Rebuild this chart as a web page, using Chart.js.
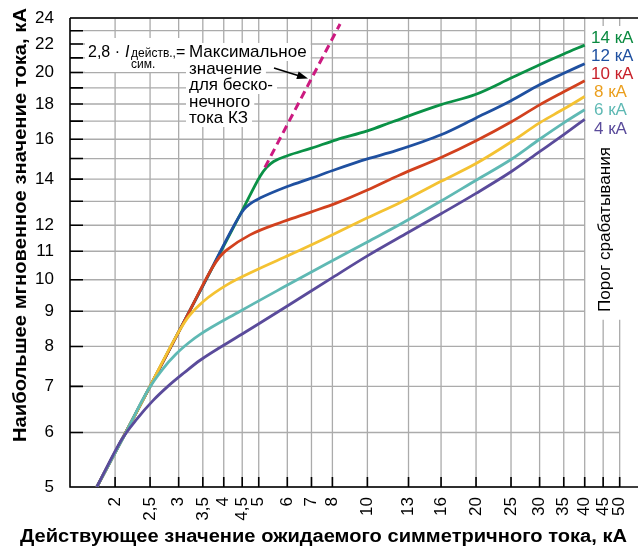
<!DOCTYPE html>
<html lang="ru">
<head>
<meta charset="utf-8">
<title>Наибольшее мгновенное значение тока</title>
<script src="https://cdn.jsdelivr.net/npm/chart.js@4.4.1/dist/chart.umd.min.js"></script>
<style>
  html, body { margin: 0; padding: 0; background: #fff; }
  #wrap { width: 638px; height: 548px; position: relative; }
</style>
</head>
<body>
<div id="wrap"><canvas id="chart"></canvas></div>
<script>
// axis ticks
const xTicks = [2, 2.5, 3, 3.5, 4, 4.5, 5, 6, 7, 8, 10, 13, 16, 20, 25, 30, 35, 40, 45, 50];
const yTicks = [5, 6, 7, 8, 9, 10, 11, 12, 13, 14, 15, 16, 17, 18, 19, 20, 21, 22, 23, 24];
const yLabeled = [5, 6, 7, 8, 9, 10, 11, 12, 14, 16, 18, 20, 22, 24];

// threshold curves, kA (x = prospective rms current, y = peak let-through current)
const seriesNames = ["4 кА", "6 кА", "8 кА", "10 кА", "12 кА", "14 кА"];
const x4 = [1.78, 2.09, 2.3, 2.55, 2.8, 3.1, 3.44, 4.5, 6, 8, 10, 13, 16, 20, 25, 30, 35, 40];
const y4 = [5.0, 5.87, 6.28, 6.68, 7.0, 7.32, 7.64, 8.34, 9.16, 10.07, 10.83, 11.72, 12.47, 13.35, 14.35, 15.35, 16.25, 17.1];
const x6 = [1.78, 2.1, 2.47, 2.7, 2.95, 3.2, 3.44, 4.44, 5.85, 7.71, 10, 12.3, 16, 20, 25, 30, 35, 40];
const y6 = [5.0, 5.88, 6.92, 7.4, 7.8, 8.1, 8.33, 9.0, 9.75, 10.55, 11.35, 12.03, 13.01, 13.95, 14.95, 16.0, 16.9, 17.66];
const x8 = [1.78, 2.4, 3.0, 3.2, 3.51, 4.08, 4.94, 6.1, 7.55, 10, 12.3, 16, 20, 25, 30, 35, 40];
const y8 = [5.0, 6.72, 8.4, 8.85, 9.3, 9.83, 10.34, 10.87, 11.45, 12.3, 12.94, 13.9, 14.75, 15.85, 16.9, 17.7, 18.46];
const x10 = [1.78, 2.5, 3.2, 3.71, 3.9, 4.08, 4.73, 5.85, 7, 8.2, 10, 12.3, 16, 20, 25, 30, 35, 40];
const y10 = [5.0, 7.0, 8.96, 10.39, 10.8, 11.05, 11.62, 12.15, 12.55, 12.92, 13.5, 14.2, 15.05, 15.92, 16.95, 17.95, 18.75, 19.45];
const x12 = [1.78, 2.5, 3.5, 4.39, 4.55, 4.73, 5.04, 6, 7, 8.2, 10, 12, 16, 20, 25, 30, 35, 40];
const y12 = [5.0, 7.0, 9.8, 12.3, 12.65, 12.89, 13.14, 13.66, 14.05, 14.47, 14.98, 15.4, 16.24, 17.18, 18.2, 19.2, 19.95, 20.6];
const x14 = [1.78, 2.5, 3.5, 4.5, 5.05, 5.25, 5.5, 6, 7, 8.2, 10, 11.8, 16, 20, 25, 30, 35, 40];
const y14 = [5.0, 7.0, 9.8, 12.6, 14.15, 14.55, 14.85, 15.14, 15.53, 15.97, 16.45, 16.98, 17.96, 18.6, 19.63, 20.53, 21.28, 21.92];
// 2,8 · I (infinite short-circuit current), dashed
const kzX = [5.2, 8.4];
const kzY = [14.56, 23.52];

const lineColors = ["#5a4b9b", "#5fb9b4", "#f4c232", "#d2411e", "#1f50a0", "#0a9146"];
const labelColors = ["#5a4b9b", "#5fb9b4", "#eb9f1e", "#c8202a", "#1f50a0", "#0a8a40"];

const FONT = "'Liberation Sans', Arial, sans-serif";

const zip = (xs, ys) => xs.map((v, i) => ({ x: v, y: ys[i] }));
const curves = [[x4, y4], [x6, y6], [x8, y8], [x10, y10], [x12, y12], [x14, y14]];

const datasets = [
  {
    label: "2,8 · I",
    data: zip(kzX, kzY),
    borderColor: "#cc1a80",
    borderWidth: 3,
    borderDash: [8, 5],
    pointRadius: 0,
    fill: false,
  },
  ...curves.map(([xs, ys], i) => ({
    label: seriesNames[i],
    data: zip(xs, ys),
    borderColor: lineColors[i],
    borderWidth: 2.8,
    pointRadius: 0,
    fill: false,
    cubicInterpolationMode: "monotone",
  })),
];

const fitText = (ctx, text, cx, cy, w, rot) => {
  const m = ctx.measureText(text).width;
  ctx.save();
  ctx.translate(cx, cy);
  if (rot) ctx.rotate(rot);
  ctx.scale(w / m, 1);
  ctx.fillText(text, 0, 0);
  ctx.restore();
};

const decor = {
  id: "decor",
  beforeDraw(chart) {
    const { ctx, width, height } = chart;
    ctx.save();
    ctx.fillStyle = "#fff";
    ctx.fillRect(0, 0, width, height);
    ctx.restore();
  },
  beforeDatasetsDraw(chart) {
    const { ctx, chartArea: a, scales: { x, y } } = chart;
    const x40 = x.getPixelForValue(40);
    const x50 = x.getPixelForValue(50);
    const yCut = y.getPixelForValue(8.75);
    ctx.save();

    // grid
    ctx.strokeStyle = "#ababab";
    ctx.lineWidth = 1.3;
    ctx.beginPath();
    xTicks.forEach((v) => {
      const px = x.getPixelForValue(v);
      ctx.moveTo(px, v <= 40 ? a.top : yCut);
      ctx.lineTo(px, a.bottom);
      if (v > 40) {
        ctx.moveTo(px, a.top);
        ctx.lineTo(px, a.top + 8);
      }
    });
    yTicks.forEach((v) => {
      const py = y.getPixelForValue(v);
      ctx.moveTo(a.left, py);
      ctx.lineTo(v <= 8 ? x50 : x40, py);
    });
    ctx.stroke();

    // frame and inner ticks
    ctx.strokeStyle = "#000";
    ctx.lineWidth = 1.6;
    ctx.beginPath();
    ctx.moveTo(a.left, a.top);
    ctx.lineTo(a.right, a.top);
    ctx.moveTo(a.left, a.top);
    ctx.lineTo(a.left, a.bottom);
    ctx.lineTo(a.right, a.bottom);
    yTicks.forEach((v) => {
      const py = y.getPixelForValue(v);
      ctx.moveTo(a.left, py);
      ctx.lineTo(a.left + 13, py);
    });
    xTicks.forEach((v) => {
      const px = x.getPixelForValue(v);
      ctx.moveTo(px, a.bottom);
      ctx.lineTo(px, a.bottom - 10);
    });
    ctx.stroke();

    // formula annotation
    const lines = ["Максимальное", "значение", "для беско-", "нечного", "тока КЗ"];
    const base = [57, 73.5, 90, 106.5, 123];
    ctx.font = `17px ${FONT}`;
    ctx.fillStyle = "#fff";
    ctx.fillRect(85, 38, 103, 34);
    lines.forEach((t, i) => {
      const w = ctx.measureText(t).width;
      ctx.fillRect(186, base[i] - 14, w + 7, 18);
    });
    ctx.fillStyle = "#000";
    ctx.textBaseline = "alphabetic";
    ctx.textAlign = "left";
    lines.forEach((t, i) => ctx.fillText(t, 189, base[i]));
    ctx.font = `16px ${FONT}`;
    ctx.fillText("2,8 ·", 88, 57);
    ctx.fillText("=", 176, 57);
    ctx.font = `italic 16px ${FONT}`;
    ctx.fillText("I", 125, 57);
    ctx.font = `12px ${FONT}`;
    ctx.fillText("действ.,", 131, 57);
    ctx.fillText("сим.", 131, 68);

    ctx.restore();
  },
  afterDatasetsDraw(chart) {
    const { ctx, chartArea: a } = chart;
    ctx.save();

    // arrow
    const ax0 = 274, ay0 = 68, ax1 = 308, ay1 = 78.5;
    const ang = Math.atan2(ay1 - ay0, ax1 - ax0);
    const c = Math.cos(ang), s = Math.sin(ang);
    ctx.strokeStyle = "#000";
    ctx.fillStyle = "#000";
    ctx.lineWidth = 1.6;
    ctx.beginPath();
    ctx.moveTo(ax0, ay0);
    ctx.lineTo(ax1 - 8 * c, ay1 - 8 * s);
    ctx.stroke();
    ctx.beginPath();
    ctx.moveTo(ax1, ay1);
    ctx.lineTo(ax1 - 11 * c - 4 * s, ay1 - 11 * s + 4 * c);
    ctx.lineTo(ax1 - 11 * c + 4 * s, ay1 - 11 * s - 4 * c);
    ctx.closePath();
    ctx.fill();

    // series labels on the right, top to bottom
    ctx.font = `17px ${FONT}`;
    ctx.textAlign = "left";
    ctx.textBaseline = "alphabetic";
    for (let i = seriesNames.length - 1, row = 0; i >= 0; i--, row++) {
      ctx.fillStyle = labelColors[i];
      const name = seriesNames[i];
      const lx = name.length > 4 ? 591 : 594;
      ctx.fillText(name, lx, a.top + 25 + row * 18.1);
    }

    ctx.fillStyle = "#000";
    ctx.textAlign = "center";
    ctx.textBaseline = "middle";
    fitText(ctx, "Порог срабатывания", 605, 229.5, 165, -Math.PI / 2);

    ctx.restore();
  },
  afterDraw(chart) {
    const { ctx } = chart;
    ctx.save();
    ctx.fillStyle = "#000";
    ctx.font = `bold 18px ${FONT}`;
    ctx.textAlign = "center";
    ctx.textBaseline = "middle";
    fitText(ctx, "Действующее значение ожидаемого симметричного тока, кА", 323.5, 537, 607);
    fitText(ctx, "Наибольшее мгновенное значение тока, кА", 21, 225, 434, -Math.PI / 2);
    ctx.restore();
  },
};

const noPad = (scale) => {
  scale.paddingLeft = 0;
  scale.paddingRight = 0;
  scale.paddingTop = 0;
  scale.paddingBottom = 0;
};

new Chart(document.getElementById("chart"), {
  type: "line",
  data: { datasets },
  plugins: [decor],
  options: {
    responsive: true,
    maintainAspectRatio: false,
    animation: false,
    devicePixelRatio: 1,
    layout: { padding: { top: 18, right: 0, left: 0, bottom: 0 } },
    plugins: {
      legend: { display: false },
      tooltip: { enabled: false },
    },
    scales: {
      x: {
        type: "logarithmic",
        min: 1.5,
        max: 56.2,
        afterBuildTicks: (scale) => {
          scale.ticks = xTicks.map((v) => ({ value: v }));
        },
        afterFit: (scale) => {
          scale.height = 61;
          noPad(scale);
        },
        grid: { display: false },
        border: { display: false },
        ticks: {
          autoSkip: false,
          minRotation: 90,
          maxRotation: 90,
          padding: 2,
          color: "#000",
          font: { family: FONT, size: 17 },
          callback: (v) => String(v).replace(".", ","),
        },
      },
      y: {
        type: "logarithmic",
        min: 5,
        max: 24,
        afterBuildTicks: (scale) => {
          scale.ticks = yTicks.map((v) => ({ value: v }));
        },
        afterFit: (scale) => {
          scale.width = 70;
          noPad(scale);
        },
        grid: { display: false },
        border: { display: false },
        ticks: {
          autoSkip: false,
          padding: 8,
          color: "#000",
          font: { family: FONT, size: 17 },
          callback: (v) => (yLabeled.includes(v) ? String(v) : ""),
        },
      },
    },
  },
});
</script>
</body>
</html>
